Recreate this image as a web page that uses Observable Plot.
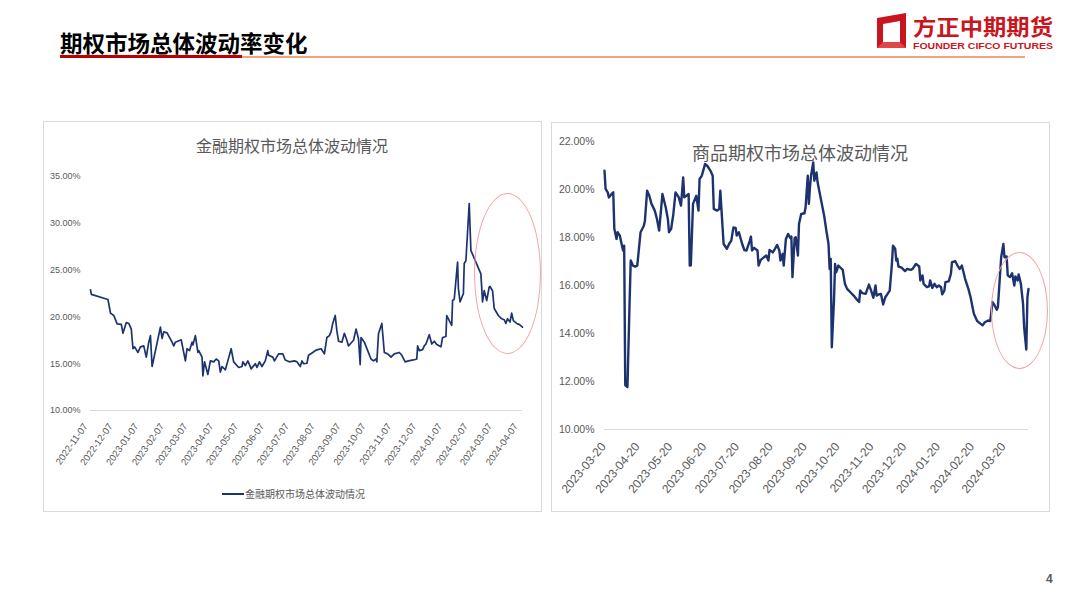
<!DOCTYPE html>
<html>
<head>
<meta charset="utf-8">
<script src="https://cdn.jsdelivr.net/npm/d3@7"></script>
<script src="https://cdn.jsdelivr.net/npm/@observablehq/plot@0.6"></script>
<style>
  html, body { margin: 0; padding: 0; background: #fff; }
  #page { position: relative; width: 1080px; height: 608px; overflow: hidden; background: #fff;
          font-family: "Noto Sans CJK SC", "Liberation Sans", sans-serif; }
  .abs { position: absolute; }
  .panel { position: absolute; box-sizing: border-box; border: 1px solid #d9d9d9; background: #fff; }
  .ctitle { position: absolute; color: #595959; white-space: nowrap; line-height: 1; font-family: "Noto Sans CJK SC", sans-serif; }
  .ring { position: absolute; box-sizing: border-box; border: 1px solid #f5a3a3; border-radius: 50%; pointer-events: none; }
</style>
</head>
<body>
<div id="page">
  <div class="abs" style="left:60px;top:31px;font-weight:bold;font-size:22.5px;line-height:1;color:#000;white-space:nowrap;">期权市场总体波动率变化</div>
  <div class="abs" style="left:60px;top:55px;width:182px;height:3px;background:#c00000;"></div>
  <div class="abs" style="left:242px;top:56px;width:783px;height:2px;background:#f4a27e;"></div>
  <svg class="abs" style="left:870px;top:8px;" width="190" height="46">
    <path d="M7 10 L36 5 L36 40 L7 40 Z M13 16 L30 13 L30 34 L13 34 Z" fill="#c9151e" fill-rule="evenodd"/>
    <path d="M7 40 L13 34 L30 34 L36 40 Z" fill="#e0454b"/>
    <text x="43" y="27" font-family="Noto Sans CJK SC" font-weight="bold" font-size="22" fill="#c9151e" textLength="140" lengthAdjust="spacingAndGlyphs">方正中期期货</text>
    <text x="43" y="40.5" font-family="Liberation Sans" font-weight="bold" font-size="8.5" fill="#c9151e" textLength="140" lengthAdjust="spacingAndGlyphs">FOUNDER CIFCO FUTURES</text>
  </svg>

  <div class="panel" id="leftPanel" style="left:43px;top:121px;width:499px;height:391px;"></div>
  <div class="panel" id="rightPanel" style="left:551px;top:122px;width:499px;height:390px;"></div>

  <div class="abs" style="left:1046px;top:572px;font-size:12px;color:#595959;font-family:'Liberation Sans',sans-serif;font-weight:bold;">4</div>
</div>

<script>
// ---------------- Data: 金融期权市场总体波动情况 (%) ----------------
const finDates = [
  "2022-11-07","2022-11-08","2022-11-28","2022-12-01","2022-12-05","2022-12-09","2022-12-14","2022-12-16","2022-12-20","2022-12-23","2022-12-26","2022-12-28","2022-12-30",
  "2023-01-03","2023-01-06","2023-01-10","2023-01-13","2023-01-16","2023-01-18","2023-01-20","2023-01-25","2023-01-30",
  "2023-02-01","2023-02-03","2023-02-07","2023-02-13","2023-02-15","2023-02-17","2023-02-24",
  "2023-03-01","2023-03-03","2023-03-06","2023-03-09","2023-03-10","2023-03-13","2023-03-16","2023-03-17","2023-03-21","2023-03-22","2023-03-24","2023-03-28","2023-03-31",
  "2023-04-04","2023-04-07","2023-04-10","2023-04-12","2023-04-14","2023-04-18","2023-04-21","2023-04-25","2023-04-28",
  "2023-05-04","2023-05-08","2023-05-09","2023-05-12","2023-05-15","2023-05-17","2023-05-19","2023-05-24","2023-05-26","2023-05-29",
  "2023-06-01","2023-06-05","2023-06-08","2023-06-09","2023-06-14","2023-06-16","2023-06-21","2023-06-26","2023-06-29",
  "2023-07-04","2023-07-10","2023-07-13","2023-07-17","2023-07-19","2023-07-21","2023-07-25","2023-07-27",
  "2023-08-01","2023-08-04","2023-08-07","2023-08-11","2023-08-15","2023-08-18","2023-08-21","2023-08-23","2023-08-25","2023-08-28","2023-08-30",
  "2023-09-01","2023-09-05","2023-09-08","2023-09-11","2023-09-13","2023-09-15","2023-09-19","2023-09-22","2023-09-25","2023-09-27","2023-09-28",
  "2023-10-02","2023-10-06","2023-10-10","2023-10-13","2023-10-16","2023-10-17","2023-10-19","2023-10-23","2023-10-26","2023-10-30",
  "2023-11-03","2023-11-07","2023-11-13","2023-11-16","2023-11-20","2023-11-24","2023-11-30",
  "2023-12-04","2023-12-05","2023-12-07","2023-12-11","2023-12-13","2023-12-15","2023-12-19","2023-12-22","2023-12-25","2023-12-28",
  "2024-01-02","2024-01-04","2024-01-08","2024-01-09","2024-01-12","2024-01-15","2024-01-16","2024-01-18","2024-01-22","2024-01-23","2024-01-25","2024-01-29","2024-01-30",
  "2024-02-01","2024-02-05","2024-02-07","2024-02-08","2024-02-13","2024-02-19","2024-02-21","2024-02-23","2024-02-26","2024-02-29",
  "2024-03-01","2024-03-04","2024-03-06","2024-03-11","2024-03-15","2024-03-18","2024-03-20","2024-03-22","2024-03-25","2024-03-27","2024-03-29",
  "2024-04-02","2024-04-05","2024-04-09"
];
const finVals = [
  22.9, 22.4, 21.86, 20.4, 20.15, 19.26, 19.2, 18.26, 19.4, 19.3, 18.7, 16.6, 16.8,
  16.2, 16.8, 16.9, 15.7, 17.3, 18.0, 14.7, 16.8, 18.9,
  17.7, 18.4, 18.3, 17.3, 16.9, 17.3, 17.55,
  15.3, 16.6, 16.4, 17.3, 17.0, 18.0, 16.2, 16.4, 15.7, 13.7, 15.2, 13.85, 15.3,
  15.2, 15.5, 15.3, 14.1, 14.7, 14.35, 15.3, 16.6, 15.2,
  14.6, 14.7, 15.2, 14.8, 15.3, 14.9, 14.45, 15.0, 14.6, 15.2,
  14.7, 15.3, 16.4, 15.9, 15.7, 15.3, 16.05, 16.05, 15.4,
  15.2, 15.3, 15.2, 14.7, 15.3, 15.0, 15.05, 15.9,
  16.2, 16.4, 16.5, 16.6, 16.05, 17.8, 18.0, 18.4, 19.3, 20.15, 18.5,
  17.4, 17.3, 18.25, 17.5, 16.9, 17.1, 17.5, 18.7, 17.65, 14.9, 17.8,
  17.3, 16.4, 15.5, 15.3, 15.5, 15.2, 18.2, 19.3, 16.2, 16.05,
  15.7, 16.05, 16.2, 15.9, 15.2, 15.3, 15.4,
  15.5, 16.9, 16.4, 16.5, 16.9, 17.1, 18.1, 17.1, 17.4, 17.05,
  16.8, 17.8, 17.9, 20.15, 19.6, 19.1, 21.75, 21.9, 25.85, 23.0, 21.6, 22.5, 25.7,
  26.0, 32.1, 27.1, 26.9, 25.85, 24.6, 21.6, 22.8, 21.75, 23.2,
  23.25, 22.8, 20.9, 20.15, 19.8, 19.7, 19.3, 19.8, 19.45, 20.4, 19.6,
  19.3, 19.2, 18.9
];
const finXTicks = ["2022-11-07","2022-12-07","2023-01-07","2023-02-07","2023-03-07","2023-04-07","2023-05-07","2023-06-07","2023-07-07","2023-08-07","2023-09-07","2023-10-07","2023-11-07","2023-12-07","2024-01-07","2024-02-07","2024-03-07","2024-04-07"];
const finYTicks = [10, 15, 20, 25, 30, 35];
const finTitle = "金融期权市场总体波动情况";
const finLegend = "金融期权市场总体波动情况";

// ---------------- Data: 商品期权市场总体波动情况 (%) ----------------
const comDates = [
  "2023-03-20","2023-03-21","2023-03-23","2023-03-24","2023-03-27","2023-03-28","2023-03-29","2023-03-31",
  "2023-04-01","2023-04-03","2023-04-05","2023-04-06","2023-04-07","2023-04-08","2023-04-10","2023-04-12","2023-04-13","2023-04-15","2023-04-17","2023-04-19","2023-04-22","2023-04-25","2023-04-26","2023-04-28","2023-04-30",
  "2023-05-02","2023-05-05","2023-05-07","2023-05-09","2023-05-12","2023-05-15","2023-05-17","2023-05-18","2023-05-20","2023-05-22","2023-05-24","2023-05-27","2023-05-29","2023-05-31",
  "2023-06-01","2023-06-03","2023-06-05","2023-06-06","2023-06-07","2023-06-09","2023-06-12","2023-06-14","2023-06-15","2023-06-17","2023-06-20","2023-06-22","2023-06-25","2023-06-27","2023-06-28",
  "2023-07-01","2023-07-03","2023-07-04","2023-07-05","2023-07-07","2023-07-10","2023-07-12","2023-07-14","2023-07-16","2023-07-18","2023-07-19","2023-07-21","2023-07-24","2023-07-26","2023-07-28","2023-07-31",
  "2023-08-01","2023-08-02","2023-08-04","2023-08-07","2023-08-08","2023-08-10","2023-08-13","2023-08-15","2023-08-17","2023-08-18","2023-08-21","2023-08-23","2023-08-25","2023-08-27","2023-08-28","2023-08-30","2023-08-31",
  "2023-09-02","2023-09-04","2023-09-06","2023-09-07","2023-09-08","2023-09-10","2023-09-11","2023-09-13","2023-09-14","2023-09-16","2023-09-19","2023-09-20","2023-09-22","2023-09-23","2023-09-24","2023-09-25","2023-09-27","2023-09-28","2023-09-30",
  "2023-10-01","2023-10-04","2023-10-07","2023-10-09","2023-10-11","2023-10-12","2023-10-13","2023-10-14","2023-10-16","2023-10-17","2023-10-18","2023-10-20","2023-10-22","2023-10-24","2023-10-26","2023-10-28","2023-10-31",
  "2023-11-03","2023-11-06","2023-11-08","2023-11-09","2023-11-11","2023-11-14","2023-11-17","2023-11-19","2023-11-21","2023-11-23","2023-11-24","2023-11-26","2023-11-28","2023-11-30",
  "2023-12-02","2023-12-04","2023-12-06","2023-12-08","2023-12-09","2023-12-11","2023-12-12","2023-12-13","2023-12-14","2023-12-17","2023-12-20","2023-12-22","2023-12-25","2023-12-27","2023-12-30",
  "2024-01-02","2024-01-03","2024-01-05","2024-01-06","2024-01-09","2024-01-11","2024-01-12","2024-01-14","2024-01-16","2024-01-18","2024-01-20","2024-01-22","2024-01-23","2024-01-25","2024-01-26","2024-01-29","2024-01-31",
  "2024-02-01","2024-02-04","2024-02-06","2024-02-08","2024-02-10","2024-02-13","2024-02-16","2024-02-18","2024-02-21","2024-02-24","2024-02-27","2024-02-29",
  "2024-03-02","2024-03-05","2024-03-07","2024-03-09","2024-03-11","2024-03-13","2024-03-14","2024-03-16","2024-03-17","2024-03-19","2024-03-20","2024-03-22","2024-03-23","2024-03-25","2024-03-27","2024-03-29","2024-03-30",
  "2024-04-01","2024-04-02","2024-04-04","2024-04-06","2024-04-07","2024-04-09","2024-04-10","2024-04-11"
];
const comVals = [
  20.78, 20.02, 19.88, 19.67, 19.84, 19.88, 18.36, 17.94,
  18.22, 18.08, 17.66, 17.46, 17.66, 11.84, 11.77, 15.38, 17.04, 16.83, 16.79, 16.83, 18.22, 18.49, 18.7, 19.95, 19.74,
  19.4, 19.12, 18.77, 18.29, 19.81, 19.26, 18.77, 18.22, 18.36, 18.98, 19.88, 19.67, 19.33, 20.5,
  19.67, 19.74, 19.81, 16.83, 16.83, 19.4, 19.74, 19.12, 20.44, 20.57, 21.06, 20.99, 20.78, 20.57, 19.19,
  19.12, 19.19, 19.95, 19.19, 17.73, 17.53, 17.73, 17.87, 18.42, 18.4, 18.08, 18.22, 17.73, 17.48, 17.46, 17.87,
  18.04, 17.46, 17.57, 17.46, 16.83, 17.07, 17.18, 17.25, 17.04, 17.48, 17.38, 17.53, 17.69, 17.46, 17.04, 17.32, 16.83,
  17.94, 18.15, 17.98, 18.04, 16.35, 17.98, 18.01, 17.25, 18.57, 18.98, 19.01, 19.26, 20.57, 19.4, 20.09, 20.57, 21.13, 20.37, 20.71,
  20.3, 19.6, 18.91, 18.29, 17.73, 16.69, 17.11, 13.43, 15.38, 16.9, 16.55, 16.83, 16.74, 16.65, 16.07, 15.86, 15.72,
  15.58, 15.41, 15.31, 15.79, 15.68, 15.65, 16.04, 15.79, 15.49, 16.0, 15.58, 15.63, 15.65, 15.21,
  15.51, 15.65, 15.79, 16.9, 17.66, 17.53, 17.04, 17.11, 16.79, 16.74, 16.6, 16.69, 16.65, 16.69, 16.9,
  16.79, 16.21, 16.42, 16.07, 15.93, 15.96, 16.21, 15.9, 16.07, 15.93, 16.0, 15.93, 15.63, 15.79, 16.14, 16.17, 16.49,
  16.97, 17.01, 16.83, 16.69, 16.83, 16.28, 15.86, 15.51, 14.82, 14.52, 14.41, 14.34,
  14.47, 14.54, 14.52, 15.31, 15.17, 14.99, 15.1, 16.49, 17.18, 17.73, 17.18, 17.21, 16.42, 16.35, 16.51, 16.0, 16.38,
  16.21, 16.46, 16.07, 15.24, 14.27, 13.33, 15.51, 15.86
];
const comXTicks = ["2023-03-20","2023-04-20","2023-05-20","2023-06-20","2023-07-20","2023-08-20","2023-09-20","2023-10-20","2023-11-20","2023-12-20","2024-01-20","2024-02-20","2024-03-20"];
const comYTicks = [10, 12, 14, 16, 18, 20, 22];
const comTitle = "商品期权市场总体波动情况";

// ---------------- Build ----------------
const lineColor = "#1c3370";
const fmtDate = d3.utcFormat("%Y-%m-%d");
const fmtPct = d => d.toFixed(2) + "%";
const finData = finDates.map((d, i) => ({date: new Date(d), v: finVals[i]}));
const comData = comDates.map((d, i) => ({date: new Date(d), v: comVals[i]}));
const page = document.getElementById("page");

function place(el, left, top) {
  el.style.position = "absolute";
  el.style.left = left + "px";
  el.style.top = top + "px";
  page.appendChild(el);
}

const finChart = Plot.plot({
  width: 499, height: 340,
  marginLeft: 47, marginRight: 20, marginTop: 55, marginBottom: 51,
  style: {fontFamily: "'Liberation Sans', 'Noto Sans CJK SC', sans-serif", fontSize: "9px", color: "#595959", background: "transparent", overflow: "visible"},
  x: {type: "utc", domain: [new Date(finDates[0]), new Date(finDates[finDates.length - 1])]},
  y: {domain: [10, 35]},
  marks: [
    Plot.axisY({ticks: finYTicks, tickFormat: fmtPct, tickSize: 0, tickPadding: 10, label: null}),
    Plot.axisX({ticks: finXTicks.map(d => new Date(d)), tickFormat: fmtDate, tickRotate: -55, tickSize: 0, tickPadding: 14, dx: -5, label: null, fontSize: 9.5}),
    Plot.ruleY([10], {stroke: "#d9d9d9", strokeWidth: 1}),
    Plot.lineY(finData, {x: "date", y: "v", stroke: lineColor, strokeWidth: 1.7, strokeLinejoin: "round"})
  ]
});
place(finChart, 43, 121);

const comChart = Plot.plot({
  width: 499, height: 370,
  marginLeft: 53, marginRight: 22, marginTop: 19, marginBottom: 63,
  style: {fontFamily: "'Liberation Sans', 'Noto Sans CJK SC', sans-serif", fontSize: "10.5px", color: "#595959", background: "transparent", overflow: "visible"},
  x: {type: "utc", domain: [new Date(comDates[0]), new Date(comDates[comDates.length - 1])]},
  y: {domain: [10, 22]},
  marks: [
    Plot.axisY({ticks: comYTicks, tickFormat: fmtPct, tickSize: 0, tickPadding: 10, label: null}),
    Plot.axisX({ticks: comXTicks.map(d => new Date(d)), tickFormat: fmtDate, tickRotate: -50, tickSize: 0, tickPadding: 15, dx: -1, label: null, fontSize: 12}),
    Plot.ruleY([10], {stroke: "#d9d9d9", strokeWidth: 1}),
    Plot.lineY(comData, {x: "date", y: "v", stroke: lineColor, strokeWidth: 2.4, strokeLinejoin: "round"})
  ]
});
place(comChart, 551, 122);

// titles
const t1 = document.createElement("div");
t1.className = "ctitle"; t1.textContent = finTitle;
t1.style.fontSize = "16px"; t1.style.left = "196px"; t1.style.top = "137px";
page.appendChild(t1);

const t2 = document.createElement("div");
t2.className = "ctitle"; t2.textContent = comTitle;
t2.style.fontSize = "18px"; t2.style.left = "692px"; t2.style.top = "143px";
page.appendChild(t2);

// legend
const lg = document.createElement("div");
lg.style.cssText = "position:absolute;left:222px;top:486px;display:flex;align-items:center;font-size:10px;color:#595959;white-space:nowrap;font-family:'Noto Sans CJK SC',sans-serif;";
lg.innerHTML = '<span style="display:inline-block;width:22px;height:2px;background:' + lineColor + ';margin-right:1px;"></span>';
lg.appendChild(document.createTextNode(finLegend));
page.appendChild(lg);

// highlight rings
const r1 = document.createElement("div");
r1.className = "ring"; r1.style.cssText += "left:474px;top:193px;width:67px;height:161px;";
page.appendChild(r1);
const r2 = document.createElement("div");
r2.className = "ring"; r2.style.cssText += "left:991px;top:252px;width:57px;height:117px;";
page.appendChild(r2);
</script>
</body>
</html>
